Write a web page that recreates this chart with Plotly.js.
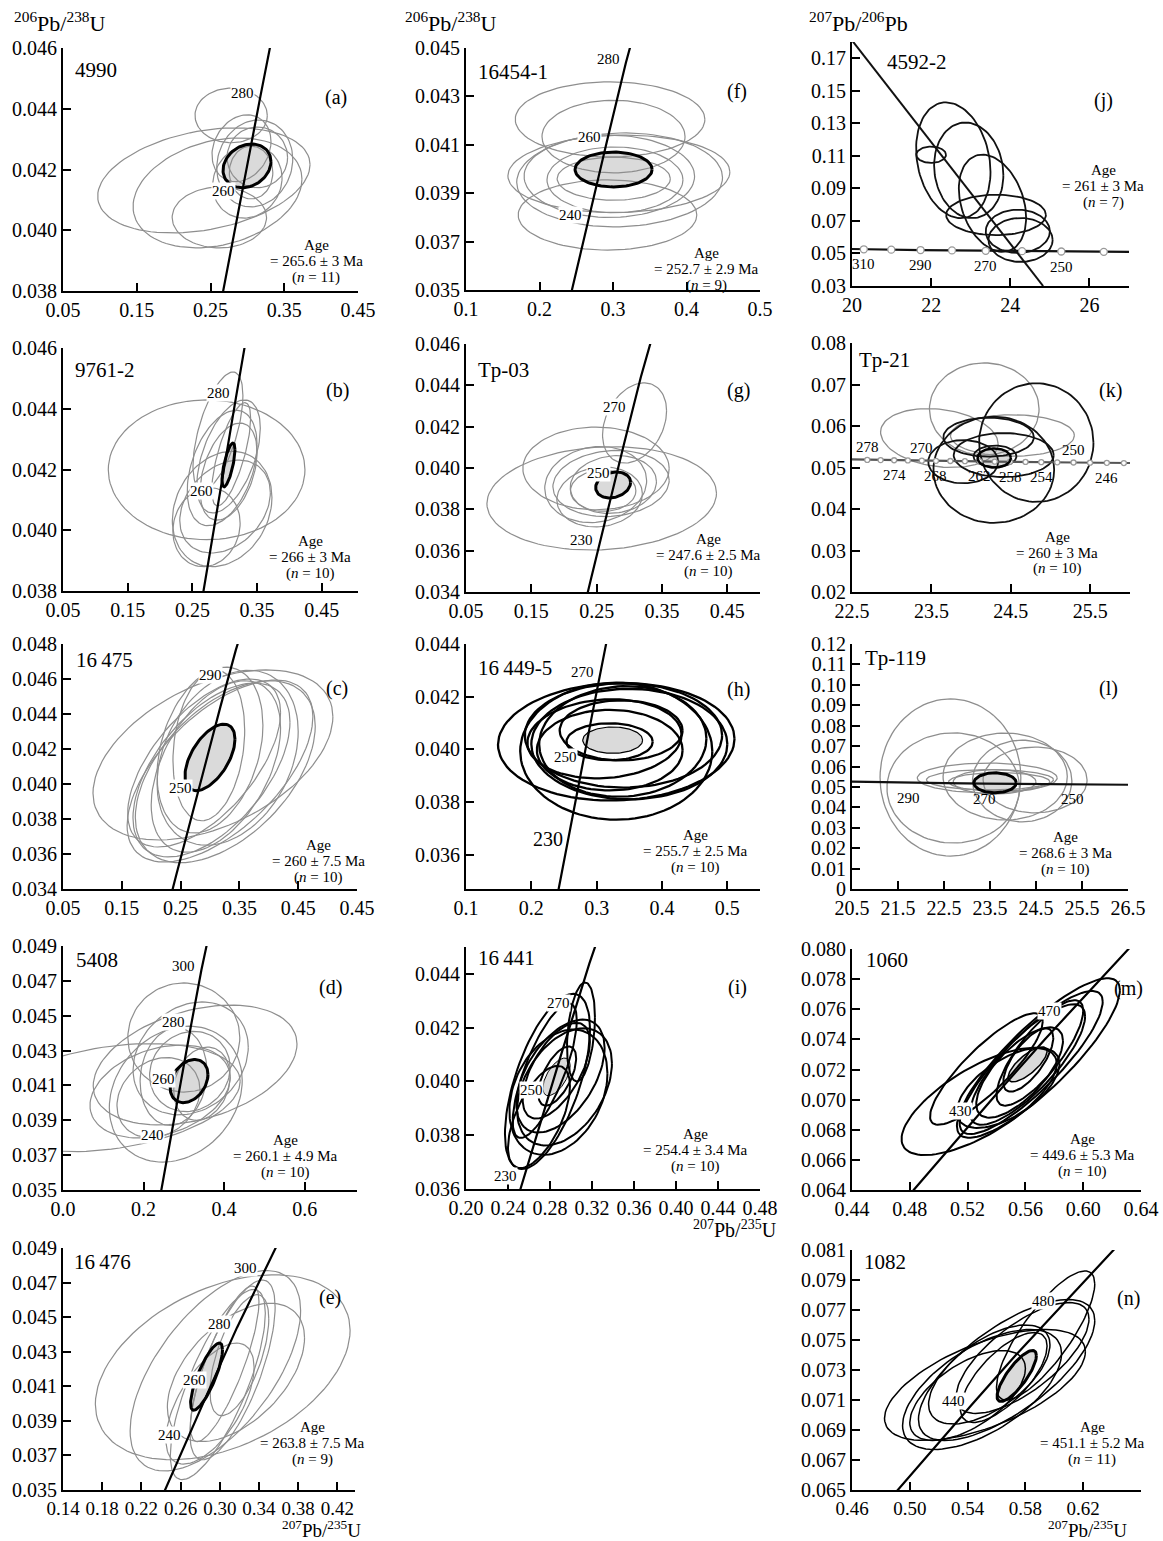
<!DOCTYPE html>
<html><head><meta charset="utf-8">
<script src="https://cdn.plot.ly/plotly-3.0.1.min.js"></script>
<style>html,body{margin:0;padding:0;background:#fff}#chart{width:1163px;height:1541px}</style>
</head><body><div id="chart"></div>
<script>
// ================= DATA =================
// Error ellipses: [centre x, centre y, half-width x, half-width y, correlation rho]
const ellA = [[0.241,0.04164,0.144,0.00173,0.3],[0.2595,0.04123,0.1145,0.00181,0.25],[0.278,0.04378,0.049,0.0009,0.0],[0.310,0.0422,0.0515,0.00143,0.1],[0.3135,0.0424,0.041,0.0010,0.0],[0.262,0.04042,0.064,0.0010,0.0],[0.305,0.0419,0.0295,0.00087,0.0],[0.292,0.0427,0.04,0.0011,0.2],[0.30,0.0416,0.047,0.0012,0.1]];
const meanA = [0.2995,0.04212,0.0325,0.00072,0.2];
const ellB = [[0.272,0.04199,0.152,0.0023,0.0],[0.296,0.0407,0.077,0.0019,0.2],[0.2895,0.04327,0.0386,0.00194,0.6],[0.296,0.04205,0.054,0.0019,0.4],[0.306,0.04243,0.049,0.00186,0.5],[0.3005,0.04078,0.07,0.00153,0.3],[0.306,0.04193,0.044,0.0016,0.4],[0.2718,0.0401,0.052,0.0013,0.1],[0.31,0.0425,0.03,0.0017,0.7]];
const meanB = [0.3058,0.04215,0.010,0.00072,0.7];
const ellC = [[0.305,0.04166,0.204,0.00486,0.45],[0.317,0.04074,0.158,0.0052,0.6],[0.3025,0.0408,0.1335,0.00497,0.55],[0.30,0.04194,0.09,0.00474,0.3],[0.298,0.0422,0.061,0.0043,0.2],[0.326,0.0407,0.153,0.0052,0.5],[0.29,0.0412,0.13,0.0048,0.6],[0.33,0.0415,0.12,0.005,0.3],[0.31,0.0410,0.11,0.0049,0.45]];
const meanC = [0.30,0.04152,0.0425,0.0019,0.55];
const ellD = [[0.12,0.0403,0.32,0.0031,0.3],[0.328,0.04217,0.253,0.00344,0.35],[0.30,0.04375,0.139,0.00313,0.0],[0.317,0.04255,0.143,0.00324,0.2],[0.241,0.04065,0.174,0.00267,0.3],[0.28,0.0405,0.165,0.0039,0.2],[0.2745,0.0415,0.083,0.0028,0.1],[0.315,0.0418,0.1,0.0023,0.1],[0.345,0.0411,0.07,0.0021,0.2],[0.237,0.0403,0.103,0.0023,0.2]];
const meanD = [0.313,0.04125,0.047,0.00124,0.3];
const ellE = [[0.303,0.0421,0.13,0.00535,0.4],[0.2955,0.0419,0.087,0.0058,0.6],[0.298,0.0411,0.0485,0.0055,0.75],[0.313,0.04195,0.0435,0.0052,0.7],[0.3165,0.0418,0.07,0.004,0.5],[0.305,0.0423,0.035,0.0045,0.8],[0.29,0.0400,0.045,0.0035,0.6],[0.32,0.0428,0.03,0.0035,0.6]];
const meanE = [0.2865,0.04156,0.0163,0.00194,0.8];
const ellF = [[0.296,0.04205,0.129,0.00155,0.0],[0.3007,0.04134,0.0973,0.0015,0.0],[0.308,0.0398,0.151,0.0016,0.05],[0.309,0.03955,0.14,0.00194,0.05],[0.2925,0.0381,0.1215,0.00145,0.0],[0.295,0.0397,0.116,0.0017,0.0],[0.3027,0.03955,0.0925,0.00136,0.0],[0.301,0.0396,0.077,0.00089,0.0]];
const meanF = [0.3008,0.03998,0.0524,0.00072,0.0];
const ellG = [[0.2577,0.03853,0.1757,0.0025,0.1],[0.249,0.03998,0.112,0.002,0.0],[0.308,0.04218,0.049,0.00194,0.3],[0.2485,0.0392,0.078,0.00184,0.1],[0.272,0.03925,0.089,0.0016,0.1],[0.2545,0.0386,0.0655,0.00145,0.1],[0.2755,0.0392,0.066,0.0014,0.1],[0.26,0.0389,0.05,0.001,0.0]];
const meanG = [0.2752,0.03918,0.0267,0.00063,0.2];
const ellH = [[0.33,0.04029,0.181,0.00223,0.05],[0.33,0.03993,0.147,0.0026,0.0],[0.341,0.04053,0.151,0.00198,0.0],[0.34,0.0403,0.128,0.0021,0.05],[0.3374,0.04072,0.094,0.00114,0.0],[0.32,0.03997,0.1115,0.00153,0.0],[0.312,0.0404,0.118,0.0015,0.1],[0.3198,0.04029,0.066,0.0007,0.0],[0.35,0.0402,0.15,0.0021,0.0]];
const meanH = [0.3245,0.04035,0.0458,0.0005,0.0];
const ellI = [[0.2776,0.0400,0.0405,0.00326,0.6],[0.3095,0.04184,0.0133,0.00184,0.3],[0.2938,0.0398,0.0452,0.00218,0.4],[0.288,0.0396,0.0467,0.00233,0.3],[0.275,0.0404,0.0305,0.0025,0.75],[0.286,0.0404,0.032,0.00178,0.6],[0.2869,0.0402,0.018,0.0011,0.6],[0.2695,0.03868,0.0295,0.0019,0.6],[0.29,0.0402,0.042,0.0021,0.5]];
const meanI = [0.2862,0.04017,0.013,0.0007,0.6];
const ellJ = [[22.0,0.1107,0.375,0.005,0.0],[22.56,0.1073,0.94,0.0356,-0.2],[22.95,0.1011,0.875,0.0294,-0.1],[23.55,0.0809,0.85,0.0299,-0.3],[23.64,0.0737,1.26,0.0124,0.0],[24.19,0.0636,0.81,0.0133,0.0],[24.26,0.0583,0.81,0.0135,0.0]];
const discordiaJx = [20.0, 24.83];
const discordiaJy = [0.181, 0.03];
const ellKgray = [[24.165,0.0641,0.69,0.0111,0.0],[23.6,0.0571,0.74,0.0071,-0.2],[24.52,0.0577,0.78,0.005,0.0]];
const ellKblack = [[24.82,0.056,0.72,0.0143,0.0],[24.285,0.04945,0.76,0.0128,0.0],[24.22,0.0573,0.57,0.0047,0.0],[23.9,0.0514,0.44,0.0052,0.0],[24.41,0.053,0.63,0.0053,0.0],[24.3,0.0527,0.27,0.0026,0.0]];
const meanK = [24.29,0.0523,0.21,0.0023,0.0];
const ellL = [[22.64,0.0546,1.53,0.0385,0.0],[22.7,0.0495,1.44,0.027,0.0],[23.83,0.0551,1.35,0.0213,0.0],[24.2,0.0529,1.08,0.02,0.0],[24.48,0.0534,1.13,0.0161,0.0],[23.44,0.0544,1.52,0.0073,0.0],[23.5,0.0535,1.38,0.005,0.0],[23.6,0.0525,0.9,0.006,0.0],[23.7,0.0525,1.1,0.0045,0.0]];
const meanL = [23.61,0.052,0.46,0.0049,0.0];
const ellM = [[0.528,0.06988,0.0537,0.00356,0.7],[0.533,0.07203,0.039,0.0037,0.85],[0.569,0.07276,0.0564,0.0053,0.85],[0.564,0.07246,0.0495,0.00475,0.85],[0.5615,0.07233,0.0398,0.004,0.8],[0.548,0.07078,0.0356,0.00266,0.6],[0.562,0.07263,0.0173,0.0021,0.7],[0.556,0.0718,0.03,0.003,0.7],[0.57,0.0731,0.03,0.0035,0.8]];
const meanM = [0.5615,0.07234,0.0135,0.00116,0.75];
const ellN = [[0.552,0.072,0.0695,0.0037,0.6],[0.594,0.0753,0.034,0.0043,0.8],[0.567,0.073,0.061,0.0047,0.7],[0.55,0.0717,0.055,0.004,0.6],[0.555,0.0727,0.042,0.0033,0.6],[0.578,0.0738,0.046,0.0037,0.7],[0.54,0.0713,0.04,0.003,0.6],[0.565,0.0725,0.03,0.003,0.7]];
const meanN = [0.574,0.0726,0.0136,0.0017,0.8];

// Concordia age labels (Ma)
const agesA = [280,260], agesB = [280,260], agesC = [290,250], agesD = [300,280,260,240], agesE = [300,280,260,240];
const agesF = [280,260,240], agesG = [270,250,230], agesH = [270,250], agesHbig = [230], agesI = [270,250,230];
const agesM = [470,430], agesN = [480,440];
const markJ = [310,300,290,280,270,260,250,240], labJ = [310,290,270,250];
const markK = [278,276,274,272,270,268,266,264,262,260,258,256,254,252,250,248,246,244];
const labKup = [278,270,250], labKdown = [274,268,262,258,254,246];
const labL = [290,270,250];
// Concordia curve nodes (Ma)
const wLineAges = [100,150,200,220,240,260,280,300,320,350,400,420,440,460,480,500,550,600,700];
const twLineAges = [200,220,240,250,260,270,280,290,300,310,320,340,360];
// Decay constants (1/Ma) and 238U/235U
const L238 = 1.55125e-4, L235 = 9.8485e-4, U85 = 137.88;

// Sample names, panel letters and age statements
const names = {a:'4990',b:'9761-2',c:'16\u2009475',d:'5408',e:'16\u2009476',f:'16454-1',g:'Tp-03',h:'16\u2009449-5',i:'16\u2009441',j:'4592-2',k:'Tp-21',l:'Tp-119',m:'1060',n:'1082'};
const ageTexts = {
  a:['Age','= 265.6 ± 3 Ma','(<i>n</i> = 11)'], b:['Age','= 266 ± 3 Ma','(<i>n</i> = 10)'], c:['Age','= 260 ± 7.5 Ma','(<i>n</i> = 10)'],
  d:['Age','= 260.1 ± 4.9 Ma','(<i>n</i> = 10)'], e:['Age','= 263.8 ± 7.5 Ma','(<i>n</i> = 9)'], f:['Age','= 252.7 ± 2.9 Ma','(<i>n</i> = 9)'],
  g:['Age','= 247.6 ± 2.5 Ma','(<i>n</i> = 10)'], h:['Age','= 255.7 ± 2.5 Ma','(<i>n</i> = 10)'], i:['Age','= 254.4 ± 3.4 Ma','(<i>n</i> = 10)'],
  j:['Age','= 261 ± 3 Ma','(<i>n</i> = 7)'], k:['Age','= 260 ± 3 Ma','(<i>n</i> = 10)'], l:['Age','= 268.6 ± 3 Ma','(<i>n</i> = 10)'],
  m:['Age','= 449.6 ± 5.3 Ma','(<i>n</i> = 10)'], n:['Age','= 451.1 ± 5.2 Ma','(<i>n</i> = 11)']
};
// Tick values / labels
const xtA=[0.05,0.15,0.25,0.35,0.45], ytA=[0.038,0.040,0.042,0.044,0.046];
const xtB=[0.05,0.15,0.25,0.35,0.45], ytB=[0.038,0.040,0.042,0.044,0.046];
const xtC=[0.05,0.15,0.25,0.35,0.45,0.55], xlC=['0.05','0.15','0.25','0.35','0.45','0.45'], ytC=[0.034,0.036,0.038,0.040,0.042,0.044,0.046,0.048];
const xtD=[0.0,0.2,0.4,0.6], ytD=[0.035,0.037,0.039,0.041,0.043,0.045,0.047,0.049];
const xtE=[0.14,0.18,0.22,0.26,0.30,0.34,0.38,0.42], ytE=[0.035,0.037,0.039,0.041,0.043,0.045,0.047,0.049];
const xtF=[0.1,0.2,0.3,0.4,0.5], ytF=[0.035,0.037,0.039,0.041,0.043,0.045];
const xtG=[0.05,0.15,0.25,0.35,0.45], ytG=[0.034,0.036,0.038,0.040,0.042,0.044,0.046];
const xtH=[0.1,0.2,0.3,0.4,0.5], ytH=[0.036,0.038,0.040,0.042,0.044];
const xtI=[0.20,0.24,0.28,0.32,0.36,0.40,0.44,0.48], ytI=[0.036,0.038,0.040,0.042,0.044];
const xtJ=[20,22,24,26], ytJ=[0.03,0.05,0.07,0.09,0.11,0.13,0.15,0.17];
const xtK=[22.5,23.5,24.5,25.5], ytK=[0.02,0.03,0.04,0.05,0.06,0.07,0.08];
const xtL=[20.5,21.5,22.5,23.5,24.5,25.5,26.5], ytL=[0,0.01,0.02,0.03,0.04,0.05,0.06,0.07,0.08,0.09,0.10,0.11,0.12];
const ylL=['0','0.01','0.02','0.03','0.04','0.05','0.06','0.07','0.08','0.09','0.10','0.11','0.12'];
const xtM=[0.44,0.48,0.52,0.56,0.60,0.64], ytM=[0.064,0.066,0.068,0.070,0.072,0.074,0.076,0.078,0.080];
const xtN=[0.46,0.50,0.54,0.58,0.62], ytN=[0.065,0.067,0.069,0.071,0.073,0.075,0.077,0.079,0.081];

// ================= LAYOUT / STYLE =================
const W = 1163, H = 1541;
const FONT = 'Liberation Serif, Times New Roman, serif';
const GRAY = '#8e8e8e', FILL = '#dadada';
const TICK = 20;
const panels = [
 {id:'a', box:[63,358,48,291], xr:[0.05,0.45], yr:[0.038,0.046], xt:xtA, xd:2, yt:ytA, yd:3, kind:'W', ell:[[ellA,GRAY,1.2]], mean:meanA, mw:3, ages:agesA, nm:[73,70], lt:[336,97], ag:[316,245]},
 {id:'b', box:[63,358,348,591], xr:[0.05,0.506], yr:[0.038,0.046], xt:xtB, xd:2, yt:ytB, yd:3, kind:'W', ell:[[ellB,GRAY,1.2]], mean:meanB, mw:3, ages:agesB, nm:[73,370], lt:[337,390], ag:[310,541]},
 {id:'c', box:[63,357,644,889], xr:[0.05,0.55], yr:[0.034,0.048], xt:xtC, xl:xlC, yt:ytC, yd:3, kind:'W', ell:[[ellC,GRAY,1.2]], mean:meanC, mw:3, ages:agesC, nm:[74,660], lt:[337,688], ag:[318,845]},
 {id:'d', box:[63,357,946,1190], xr:[0.0,0.73], yr:[0.035,0.049], xt:xtD, xd:1, yt:ytD, yd:3, kind:'W', ell:[[ellD,GRAY,1.2]], mean:meanD, mw:3, ages:agesD, nm:[74,960], lt:[330,987], ag:[285,1140]},
 {id:'e', box:[63,355,1248,1490], xr:[0.14,0.438], yr:[0.035,0.049], xt:xtE, xd:2, yt:ytE, yd:3, kind:'W', ell:[[ellE,GRAY,1.2]], mean:meanE, mw:3, ages:agesE, nm:[72,1262], lt:[330,1297], ag:[312,1427], xfs:19},
 {id:'f', box:[466,760,48,290], xr:[0.1,0.5], yr:[0.035,0.045], xt:xtF, xd:1, yt:ytF, yd:3, kind:'W', ell:[[ellF,GRAY,1.2]], mean:meanF, mw:3, ages:agesF, nm:[476,72], lt:[737,92], ag:[707,253]},
 {id:'g', box:[466,760,344,592], xr:[0.05,0.5], yr:[0.034,0.046], xt:xtG, xd:2, yt:ytG, yd:3, kind:'W', ell:[[ellG,GRAY,1.2]], mean:meanG, mw:3, ages:agesG, nm:[476,370], lt:[738,390], ag:[708,539]},
 {id:'h', box:[466,760,644,889], xr:[0.1,0.55], yr:[0.0347,0.044], xt:xtH, xd:1, yt:ytH, yd:3, kind:'W', ell:[[ellH,'#000',2.3]], mean:meanH, mw:1.2, ages:agesH, big:agesHbig, nm:[476,668], lt:[738,690], ag:[695,835]},
 {id:'i', box:[466,760,947,1189], xr:[0.2,0.48], yr:[0.036,0.045], xt:xtI, xd:2, yt:ytI, yd:3, kind:'W', ell:[[ellI,'#000',2]], mean:meanI, mw:1, ages:agesI, nm:[476,958], lt:[737,987], ag:[695,1134]},
 {id:'j', box:[852,1129,42,286], xr:[20,27], yr:[0.03,0.18], xt:xtJ, xd:0, yt:ytJ, yd:2, kind:'TWj', ell:[[ellJ,'#111',1.8]], nm:[885,62], lt:[1103,100], ag:[1103,170]},
 {id:'k', box:[852,1130,343,592], xr:[22.5,26], yr:[0.02,0.08], xt:xtK, xd:1, yt:ytK, yd:2, kind:'TWk', ell:[[ellKgray,GRAY,1.3],[ellKblack,'#111',1.8]], mean:meanK, mw:2.5, nm:[857,360], lt:[1110,390], ag:[1057,537]},
 {id:'l', box:[852,1128,644,889], xr:[20.5,26.5], yr:[0,0.12], xt:xtL, xd:1, yt:ytL, yl:ylL, kind:'TWl', ell:[[ellL,GRAY,1.3]], mean:meanL, mw:3, nm:[863,658], lt:[1108,688], ag:[1065,837]},
 {id:'m', box:[852,1141,949,1190], xr:[0.44,0.64], yr:[0.064,0.080], xt:xtM, xd:2, yt:ytM, yd:3, kind:'W', ell:[[ellM,'#000',2]], mean:meanM, mw:1.5, ages:agesM, nm:[864,960], lt:[1128,988], ag:[1082,1139]},
 {id:'n', box:[852,1141,1250,1490], xr:[0.46,0.66], yr:[0.065,0.081], xt:xtN, xd:2, yt:ytN, yd:3, kind:'W', ell:[[ellN,'#000',1.5]], mean:meanN, mw:3, ages:agesN, nm:[862,1262], lt:[1128,1298], ag:[1092,1427], xfs:19}
];

// ================= HELPERS =================
function ellipsePts(e){
  const [cx,cy,sx,sy,r] = e, s = Math.sqrt(1-r*r), xs=[], ys=[];
  for(let i=0;i<=96;i++){const t=2*Math.PI*i/96; xs.push(cx+sx*Math.cos(t)); ys.push(cy+sy*(r*Math.cos(t)+s*Math.sin(t)));}
  return {xs, ys};
}
function wether(age){ return [Math.exp(L235*age)-1, Math.exp(L238*age)-1]; }
function tera(age){ const a=Math.exp(L238*age)-1, b=Math.exp(L235*age)-1; return [1/a, b/a/U85]; }
function P(px,py){ return {x:px/W, y:1-py/H}; }

const traces = [], annotations = [], layout = {
  width:W, height:H, margin:{l:0,r:0,t:0,b:0}, paper_bgcolor:'#fff', plot_bgcolor:'#fff',
  showlegend:false, font:{family:FONT, color:'#000'}
};

panels.forEach((p, idx) => {
  const k = idx+1, xa = 'x'+(k>1?k:''), ya = 'y'+(k>1?k:'');
  const [l,r,t,b] = p.box;
  layout['xaxis'+(k>1?k:'')] = {
    domain:[l/W, r/W], range:p.xr, anchor:ya, showline:true, linecolor:'#000', linewidth:2,
    ticks:'inside', ticklen:8, tickwidth:2, tickcolor:'#000', showgrid:false, zeroline:false,
    tickmode:'array', tickvals:p.xt, ticktext:p.xl || p.xt.map(v=>v.toFixed(p.xd)),
    tickfont:{family:FONT, size:p.xfs || TICK, color:'#000'}, fixedrange:true
  };
  layout['yaxis'+(k>1?k:'')] = {
    domain:[1-b/H, 1-t/H], range:p.yr, anchor:xa, showline:true, linecolor:'#000', linewidth:2,
    ticks:'inside', ticklen:8, tickwidth:2, tickcolor:'#000', showgrid:false, zeroline:false,
    tickmode:'array', tickvals:p.yt, ticktext:p.yl || p.yt.map(v=>v.toFixed(p.yd)),
    tickfont:{family:FONT, size:TICK, color:'#000'}, fixedrange:true
  };
  if(p.mean){
    const m = ellipsePts(p.mean);
    traces.push({x:m.xs, y:m.ys, xaxis:xa, yaxis:ya, mode:'lines', fill:'toself', fillcolor:FILL, line:{width:0, color:FILL}, hoverinfo:'skip'});
  }
  p.ell.forEach(([arr, col, w]) => arr.forEach(e => {
    const q = ellipsePts(e);
    traces.push({x:q.xs, y:q.ys, xaxis:xa, yaxis:ya, mode:'lines', line:{color:col, width:w}, hoverinfo:'skip'});
  }));
  if(p.kind === 'W'){
    const pts = wLineAges.map(wether);
    traces.push({x:pts.map(v=>v[0]), y:pts.map(v=>v[1]), xaxis:xa, yaxis:ya, mode:'lines', line:{color:'#000', width:2.2}, hoverinfo:'skip'});
    p.ages.forEach(a => { const [cx,cy] = wether(a);
      annotations.push({xref:xa, yref:ya, x:cx, y:cy, text:String(a), showarrow:false, xanchor:'right', yanchor:'middle', xshift:-5, yshift:4,
        bgcolor:'#fff', borderpad:0, font:{family:FONT, size:15, color:'#000'}}); });
    (p.big||[]).forEach(a => { const [cx,cy] = wether(a);
      annotations.push({xref:xa, yref:ya, x:cx, y:cy, text:String(a), showarrow:false, xanchor:'right', yanchor:'middle', xshift:-2, yshift:7,
        font:{family:FONT, size:20, color:'#000'}}); });
  } else {
    const pts = twLineAges.map(tera);
    const lineCol = p.kind==='TWk' ? '#555' : '#111';
    traces.push({x:pts.map(v=>v[0]), y:pts.map(v=>v[1]), xaxis:xa, yaxis:ya, mode:'lines', line:{color:lineCol, width:2.2}, hoverinfo:'skip'});
    const marks = p.kind==='TWj' ? markJ : (p.kind==='TWk' ? markK : []);
    if(marks.length){ const mp = marks.map(tera);
      traces.push({x:mp.map(v=>v[0]), y:mp.map(v=>v[1]), xaxis:xa, yaxis:ya, mode:'markers', marker:{size:p.kind==='TWj'?7:5, color:'#fff', line:{color:'#9a9a9a', width:1.3}}, hoverinfo:'skip'}); }
    const lab = (arr, up) => arr.forEach(a => { const [cx,cy] = tera(a);
      annotations.push({xref:xa, yref:ya, x:cx, y:cy, text:String(a), showarrow:false, xanchor:'center', yanchor:up?'bottom':'top', yshift:up?3:-5,
        font:{family:FONT, size:15, color:'#000'}}); });
    if(p.kind==='TWj'){ lab(labJ,false);
      traces.push({x:discordiaJx, y:discordiaJy, xaxis:xa, yaxis:ya, mode:'lines', line:{color:'#111', width:2}, hoverinfo:'skip'}); }
    if(p.kind==='TWk'){ lab(labKup,true); lab(labKdown,false); }
    if(p.kind==='TWl'){ lab(labL,false); }
  }
  if(p.mean){
    const m = ellipsePts(p.mean);
    traces.push({x:m.xs, y:m.ys, xaxis:xa, yaxis:ya, mode:'lines', line:{color:'#000', width:p.mw}, hoverinfo:'skip'});
  }
  const nm = P(p.nm[0], p.nm[1]);
  annotations.push({xref:'paper', yref:'paper', x:nm.x, y:nm.y, text:names[p.id], showarrow:false, xanchor:'left', yanchor:'middle', font:{family:FONT, size:21, color:'#000'}});
  const lt = P(p.lt[0], p.lt[1]);
  annotations.push({xref:'paper', yref:'paper', x:lt.x, y:lt.y, text:'('+p.id+')', showarrow:false, xanchor:'center', yanchor:'middle', font:{family:FONT, size:20, color:'#000'}});
  ageTexts[p.id].forEach((s, i) => { const q = P(p.ag[0], p.ag[1] + 16*i);
    annotations.push({xref:'paper', yref:'paper', x:q.x, y:q.y, text:s, showarrow:false, xanchor:'center', yanchor:'middle', font:{family:FONT, size:15, color:'#000'}}); });
});

const yTitle = '<sup>206</sup>Pb/<sup>238</sup>U', yTitleTW = '<sup>207</sup>Pb/<sup>206</sup>Pb', xTitle = '<sup>207</sup>Pb/<sup>235</sup>U';
[[12,22,yTitle],[403,22,yTitle],[807,22,yTitleTW]].forEach(([px,py,s]) => { const q=P(px,py);
  annotations.push({xref:'paper', yref:'paper', x:q.x, y:q.y, text:s, showarrow:false, xanchor:'left', yanchor:'middle', font:{family:FONT, size:22, color:'#000'}}); });
[[778,1229,xTitle,20],[362,1529,xTitle,19],[1128,1529,xTitle,19]].forEach(([px,py,s,fs]) => { const q=P(px,py);
  annotations.push({xref:'paper', yref:'paper', x:q.x, y:q.y, text:s, showarrow:false, xanchor:'right', yanchor:'middle', borderpad:0, font:{family:FONT, size:fs, color:'#000'}}); });

layout.annotations = annotations;
Plotly.newPlot('chart', traces, layout, {staticPlot:true, displayModeBar:false});
</script>
</body></html>
